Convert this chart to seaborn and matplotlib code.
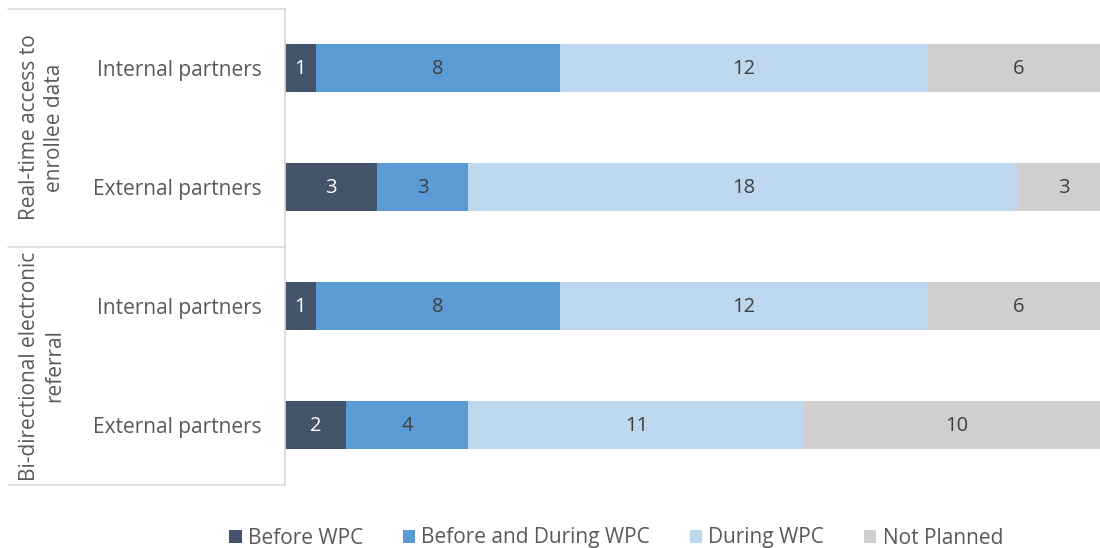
import matplotlib
matplotlib.use("Agg")
import matplotlib.pyplot as plt
import seaborn as sns
import pandas as pd
import numpy as np
from matplotlib.lines import Line2D
from matplotlib.patches import Patch

sns.set_theme(style="white")
plt.rcParams['font.family'] = ['Open Sans', 'DejaVu Sans']

row_labels = ["Internal partners", "External partners", "Internal partners", "External partners"]
group_labels = ["Real-time access to\nenrollee data", "Bi-directional electronic\nreferral"]
series_names = ["Before WPC", "Before and During WPC", "During WPC", "Not Planned"]
before_wpc = [1, 3, 1, 2]
before_during_wpc = [8, 3, 8, 4]
during_wpc = [12, 18, 12, 11]
not_planned = [6, 3, 6, 10]
colors = ["#44546A", "#5B9BD5", "#BDD7EE", "#D0CECE"]
text_colors = ["white", "#404040", "#404040", "#404040"]

series = [before_wpc, before_during_wpc, during_wpc, not_planned]
keys = [f"r{i}" for i in range(len(row_labels))]
vals = np.array(series, dtype=float)
cum = np.cumsum(vals, axis=0)

fig = plt.figure(figsize=(11, 5.48), dpi=100)
ax = fig.add_axes([285/1100, 1-484.5/548, 825/1100, (484.5-8.5)/548])

for i in range(len(series) - 1, -1, -1):
    df = pd.DataFrame({"row": keys, "value": cum[i]})
    sns.barplot(data=df, x="value", y="row", order=keys, color=colors[i],
                orient="h", width=0.4, ax=ax, saturation=1, edgecolor="none")

for i in range(len(series)):
    for j in range(len(keys)):
        v = vals[i, j]
        center = cum[i, j] - v / 2
        ax.text(center, j + 0.01, f"{int(v)}", ha="center", va="center",
                color=text_colors[i], fontsize=14.5)

ax.set_xlim(0, cum[-1].max())
ax.set_ylim(len(keys) - 0.5, -0.5)
ax.set_xlabel("")
ax.set_ylabel("")
ax.set_xticks([])
ax.set_yticks(range(len(keys)))
ax.set_yticklabels(row_labels, fontsize=15, color="#595959")
ax.tick_params(axis="y", length=0, pad=16.5)
for s in ["top", "right", "bottom"]:
    ax.spines[s].set_visible(False)
ax.spines["left"].set_color("#D9D9D9")
ax.spines["left"].set_linewidth(1.2)

# group separators
lc = "#D9D9D9"
for ypx in [8.5, 247, 484.5]:
    fig.add_artist(Line2D([8/1100, 285/1100], [1-ypx/548, 1-ypx/548], color=lc, lw=1.2))
for k, g in enumerate(group_labels):
    yc = [127.5, 366][k]
    fig.text(42/1100, 1-yc/548, g, rotation=90, ha="center", va="center",
             fontsize=15, color="#595959", multialignment="center", linespacing=1.3)

handles = [Patch(facecolor=c, edgecolor="none") for c in colors]
fig.legend(handles, series_names, loc="center", bbox_to_anchor=(616/1100, 1-538/548),
           ncol=4, frameon=False, fontsize=15, labelcolor="#595959",
           handlelength=0.6, handleheight=0.6, handletextpad=0.3, columnspacing=1.9)

fig.savefig("out.png", dpi=100)
